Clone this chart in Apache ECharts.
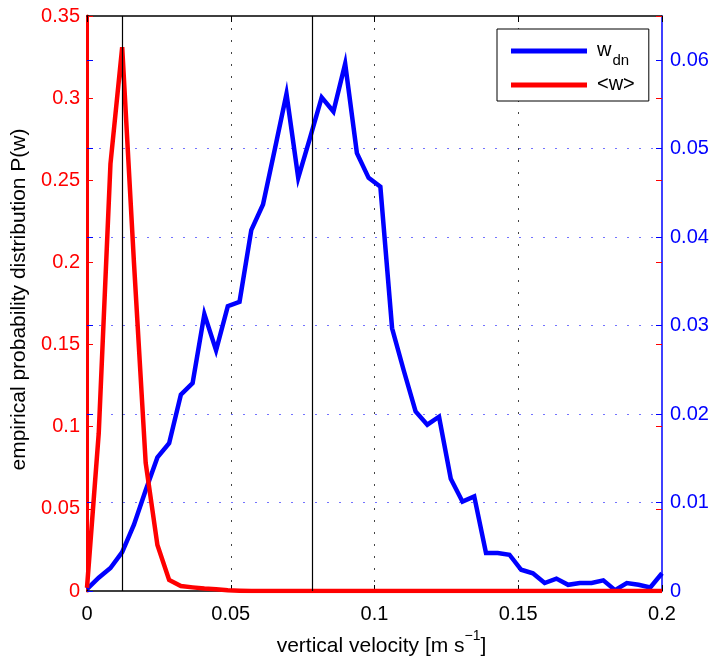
<!DOCTYPE html>
<html>
<head>
<meta charset="utf-8">
<script src="https://cdn.jsdelivr.net/npm/echarts@6/dist/echarts.min.js"></script>
<style>
  html, body { margin: 0; padding: 0; background: #ffffff; }
  #chart { width: 715px; height: 663px; }
</style>
</head>
<body>
<div id="chart"></div>
<script>
// Vertical velocity bins [m s^-1]
const velocity = [
  0, 0.00408, 0.00816, 0.01224, 0.01633, 0.02041, 0.02449, 0.02857, 0.03265, 0.03673,
  0.04082, 0.0449, 0.04898, 0.05306, 0.05714, 0.06122, 0.06531, 0.06939, 0.07347, 0.07755,
  0.08163, 0.08571, 0.0898, 0.09388, 0.09796, 0.10204, 0.10612, 0.1102, 0.11429, 0.11837,
  0.12245, 0.12653, 0.13061, 0.13469, 0.13878, 0.14286, 0.14694, 0.15102, 0.1551, 0.15918,
  0.16327, 0.16735, 0.17143, 0.17551, 0.17959, 0.18367, 0.18776, 0.19184, 0.19592, 0.2
];

// Downdraft velocity distribution (right axis)
const wDown = [
  0.0002, 0.0015, 0.0026, 0.0044, 0.0075, 0.0114, 0.0151, 0.0167, 0.0222, 0.0235,
  0.0313, 0.0272, 0.0322, 0.0327, 0.0408, 0.0437, 0.0499, 0.0562, 0.0467, 0.0512,
  0.0558, 0.0542, 0.0596, 0.0495, 0.0467, 0.0457, 0.0297, 0.0249, 0.0203, 0.0188,
  0.0197, 0.0127, 0.0101, 0.0107, 0.0043, 0.0043, 0.0041, 0.0024, 0.0020, 0.0009,
  0.0014, 0.0007, 0.0009, 0.0009, 0.0012, 0.0001, 0.0009, 0.0007, 0.0004, 0.0020
];

// Mean velocity distribution (left axis)
const wMean = [
  0.002, 0.096, 0.26, 0.331, 0.2, 0.078, 0.028, 0.0067, 0.003, 0.0022,
  0.0015, 0.001, 0.0004, 0.0002, 0, 0, 0, 0, 0, 0,
  0, 0, 0, 0, 0, 0, 0, 0, 0, 0,
  0, 0, 0, 0, 0, 0, 0, 0, 0, 0,
  0, 0, 0, 0, 0, 0, 0, 0, 0, 0
];

// Means of the two distributions
const meanMarks = [0.0121, 0.0782];

// Tick values of the right-hand axis
const rightTicks = [0, 0.01, 0.02, 0.03, 0.04, 0.05, 0.06];

const FONT = '"Liberation Sans", Arial, Helvetica, sans-serif';
const RED = '#ff0000';
const BLUE = '#0000ff';

const toPairs = (ys) => velocity.map((v, i) => [v, ys[i]]);

const chart = echarts.init(document.getElementById('chart'), null, { renderer: 'canvas' });

const option = {
  animation: false,
  backgroundColor: '#ffffff',
  grid: { left: 87, right: 53, top: 16, bottom: 72, containLabel: false },
  legend: {
    left: 497,
    top: 29,
    orient: 'vertical',
    data: ['wdn', '<w>'],
    icon: 'rect',
    itemWidth: 76,
    itemHeight: 5,
    itemGap: 6,
    padding: [11, 14, 7, 14],
    backgroundColor: '#ffffff',
    borderColor: '#000000',
    borderWidth: 1,
    borderRadius: 0,
    selectedMode: false,
    formatter: (name) => name === 'wdn' ? '{m|w}{s|dn}' : '{m|<w>}',
    textStyle: {
      color: '#000',
      fontFamily: FONT,
      rich: {
        m: { fontSize: 20, lineHeight: 22, verticalAlign: 'top', fontFamily: FONT, color: '#000', padding: [0, 0, 0, 5] },
        s: { fontSize: 15, lineHeight: 18, verticalAlign: 'top', fontFamily: FONT, color: '#000', padding: [13, 0, 0, 1] }
      }
    }
  },
  xAxis: [
    {
      type: 'value',
      position: 'bottom',
      min: 0, max: 0.2, interval: 0.05,
      axisLine: { onZero: false, lineStyle: { color: '#000', width: 1.5 } },
      axisTick: { inside: true, length: 6, lineStyle: { color: '#000', width: 1 } },
      axisLabel: { color: '#000', fontSize: 20, fontFamily: FONT, margin: 13 },
      splitLine: {
        show: true, showMinLine: false, showMaxLine: false,
        lineStyle: { color: '#444', width: 1, type: [2, 10] }
      },
      name: '{a|vertical velocity [m s}{p|−1}{t|]}',
      nameLocation: 'middle',
      nameGap: 34,
      nameTextStyle: {
        rich: {
          a: { fontSize: 21, lineHeight: 22, verticalAlign: 'bottom', color: '#000', fontFamily: FONT, padding: [0, 0, 0, 14] },
          t: { fontSize: 21, lineHeight: 22, verticalAlign: 'bottom', color: '#000', fontFamily: FONT },
          p: { fontSize: 14, lineHeight: 16, verticalAlign: 'bottom', color: '#000', fontFamily: FONT, padding: [0, 0, 14, 0] }
        }
      }
    },
    {
      type: 'value',
      position: 'top',
      min: 0, max: 0.2, interval: 0.05,
      axisLine: { onZero: false, lineStyle: { color: '#000', width: 1.5 } },
      axisTick: { inside: true, length: 6, lineStyle: { color: '#000', width: 1 } },
      axisLabel: { show: false },
      splitLine: { show: false }
    }
  ],
  yAxis: [
    {
      type: 'value',
      position: 'left',
      min: 0, max: 0.35, interval: 0.05,
      axisLine: { show: true, onZero: false, lineStyle: { color: RED, width: 3 } },
      axisTick: { show: true, inside: true, length: 6, lineStyle: { color: RED, width: 1 } },
      axisLabel: { color: RED, fontSize: 20, fontFamily: FONT, margin: 7 },
      splitLine: { show: false },
      name: 'empirical probability distribution P(w)',
      nameLocation: 'middle',
      nameGap: 52,
      nameTextStyle: { color: '#000', fontSize: 21, fontFamily: FONT, padding: [0, 0, 0, 8] }
    },
    {
      type: 'value',
      position: 'right',
      min: 0, max: 0.065, interval: 0.01,
      axisLine: { show: true, onZero: false, lineStyle: { color: BLUE, width: 1.5 } },
      axisTick: { show: true, inside: true, length: 6, customValues: rightTicks, lineStyle: { color: BLUE, width: 1 } },
      axisLabel: { color: BLUE, fontSize: 20, fontFamily: FONT, margin: 8, customValues: rightTicks },
      splitLine: {
        show: true, showMinLine: false, showMaxLine: false,
        lineStyle: { color: 'rgba(0,0,255,0.55)', width: 1, type: [2, 10] }
      }
    },
    {
      // left-axis ticks repeated on the right edge
      type: 'value',
      position: 'right',
      min: 0, max: 0.35, interval: 0.05,
      axisLine: { show: false, onZero: false },
      axisTick: { show: true, inside: true, length: 6, lineStyle: { color: RED, width: 1 } },
      axisLabel: { show: false },
      splitLine: { show: false }
    },
    {
      // right-axis ticks repeated on the left edge
      type: 'value',
      position: 'left',
      min: 0, max: 0.065, interval: 0.01,
      axisLine: { show: false, onZero: false },
      axisTick: { show: true, inside: true, length: 6, customValues: rightTicks, lineStyle: { color: BLUE, width: 1 } },
      axisLabel: { show: false },
      splitLine: { show: false }
    }
  ],
  series: [
    {
      name: 'wdn',
      type: 'line',
      xAxisIndex: 0,
      yAxisIndex: 1,
      data: toPairs(wDown),
      color: BLUE,
      showSymbol: false,
      symbol: 'none',
      lineStyle: { color: BLUE, width: 4.5, join: 'miter' },
      z: 3
    },
    {
      name: '<w>',
      type: 'line',
      xAxisIndex: 0,
      yAxisIndex: 0,
      data: toPairs(wMean),
      color: RED,
      showSymbol: false,
      symbol: 'none',
      lineStyle: { color: RED, width: 4.5, join: 'miter' },
      z: 4
    },
    {
      name: 'means',
      type: 'line',
      xAxisIndex: 0,
      yAxisIndex: 0,
      data: [],
      z: 6,
      markLine: {
        silent: true,
        symbol: 'none',
        precision: 5,
        animation: false,
        label: { show: false },
        lineStyle: { color: '#000', width: 1.2, type: 'solid' },
        emphasis: { disabled: true },
        data: meanMarks.map((v) => ({ xAxis: v }))
      }
    }
  ]
};

chart.setOption(option);
</script>
</body>
</html>
